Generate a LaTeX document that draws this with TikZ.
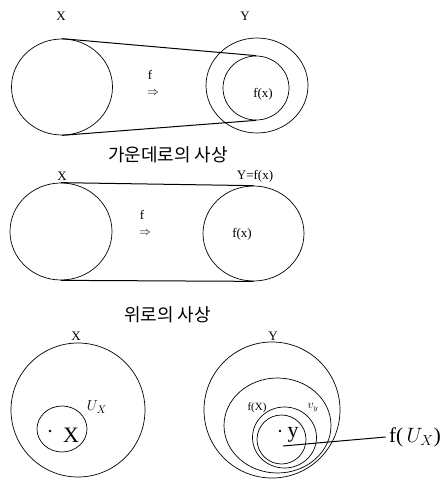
\documentclass[tikz,border=0pt]{standalone}
\usepackage{fontspec}
\setmainfont{Liberation Serif}
\newfontfamily\krfont{Noto Sans CJK KR}
\usetikzlibrary{shapes.geometric,positioning}

\begin{document}
\begin{tikzpicture}[
  x=1pt,y=-1pt,
  font=\fontsize{13}{15}\selectfont,
  set/.style={draw,ellipse,inner sep=0pt,line width=0.7pt},
  link/.style={draw,line width=1pt},
  caption/.style={font=\krfont\fontsize{18}{20}\selectfont},
  big/.style={font=\fontsize{22}{24}\selectfont},
  pt/.style={circle,fill,inner sep=0pt,minimum size=2.6pt}
]
\useasboundingbox (0,0) rectangle (446,479);

% into
\node[set,minimum width=101pt,minimum height=96pt] (xa) at (62,87) {};
\node[set,minimum width=102pt,minimum height=95pt] (ya) at (257,85.5) {};
\node[set,minimum width=66pt,minimum height=64pt] (fa) at (256,88) {};
\node (xalab) at (61,16) {X};
\node (yalab) at (245,16) {Y};
\node (fxa) at (263,94) {f(x)};
\node (fmapa) at (150,75) {f};
\node (arra) at (153,93) {$\Rightarrow$};
\draw[link] (xa.north) -- (fa.north);
\draw[link] (xa.south) -- (fa.south);
\node[caption] (capa) at (168,155) {가운데로의 사상};

% onto
\node[set,minimum width=102pt,minimum height=97pt] (xb) at (61,231.5) {};
\node[set,minimum width=101pt,minimum height=95pt] (yb) at (253.5,233.5) {};
\node (xblab) at (62,176) {X};
\node (yblab) at (255,176) {Y=f(x)};
\node (fxb) at (242,234) {f(x)};
\node (fmapb) at (142,215) {f};
\node (arrb) at (145,233) {$\Rightarrow$};
\draw[link] (xb.north) -- (yb.north);
\draw[link] (xb.south) -- (yb.south);
\node[caption] (capb) at (167.5,315) {위로의 사상};

% neighbourhoods
\node[set,minimum width=134pt,minimum height=134pt] (xc) at (78,410) {};
\node[set,minimum width=50pt,minimum height=46pt] (ux) at (62,429) {};
\node (xclab) at (76,336) {X};
\node[pt] (px) at (50,431) {};
\node[big] (xpt) at (71,435) {X};
\node[font=\fontsize{15}{17}\selectfont] (uxlab) at (97,407) {$U_X$};

\node[set,minimum width=136pt,minimum height=136pt] (yc) at (272,410) {};
\node[set,minimum width=107pt,minimum height=95pt] (fX) at (277.5,425.5) {};
\node[set,minimum width=64pt,minimum height=61pt] (vy) at (284.5,437.5) {};
\node[set,minimum width=49pt,minimum height=49pt] (fu) at (281.5,439.5) {};
\node (yclab) at (273,336) {Y};
\node[pt] (py) at (280,431) {};
\node[big] (ypt) at (293,435) {y};
\node[font=\fontsize{11}{13}\selectfont] (fXlab) at (257,408) {f(X)};
\node[font=\fontsize{12}{14}\selectfont] (vylab) at (313,408) {$v_y$};
\node[font=\fontsize{21}{23}\selectfont] (fulab) at (415,437) {f($\,U_X$)};
\coordinate (fuend) at (283,446);
\draw[link] (fuend) -- (fulab.west);
\end{tikzpicture}
\end{document}
